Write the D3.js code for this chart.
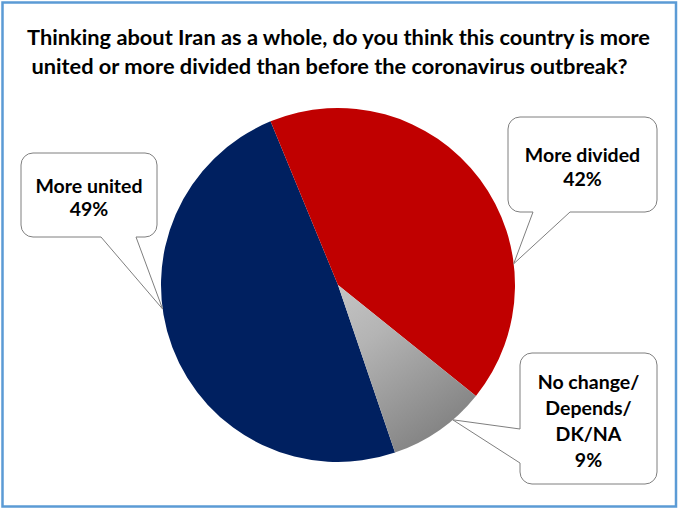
<!DOCTYPE html>
<html>
<head>
<meta charset="utf-8">
<script src="https://cdn.jsdelivr.net/npm/d3@7"></script>
<style>
  html, body { margin: 0; padding: 0; background: #fff; }
  svg { display: block; }
  text { font-family: Lato, "Open Sans", sans-serif; font-weight: bold; fill: #000; }
</style>
</head>
<body>
<svg id="chart" width="679" height="510"></svg>
<script>
// ---- data ----
const titleLines = [
  "Thinking about Iran as a whole, do you think this country is more",
  "united or more divided than before the coronavirus outbreak?"
];
const categories = ["More united", "More divided", "No change/Depends/DK/NA"];
const values = [49, 42, 9];
const labelLines = [["More united"], ["More divided"], ["No change/", "Depends/", "DK/NA"]];
const colors = ["#002060", "#C00000", "url(#grayGrad)"];

// ---- layout ----
const W = 679, H = 510;
const cx = 338, cy = 285, R = 177;
const startDeg = 161.2;
const callouts = [
  { x0: 21, y0: 153, x1: 157, y1: 237, side: "bottom", b1: 101, b2: 136, tipDeg: 262.2, lh: 23, fs: 19.5 },
  { x0: 508, y0: 117, x1: 657, y1: 212, side: "bottom", b1: 533, b2: 570, tipDeg: 83.1, lh: 24, fs: 19.5 },
  { x0: 520, y0: 353, x1: 657, y1: 484, side: "left", b1: 429, b2: 463, tipDeg: 139.6, lh: 26, fs: 19.5 }
];

const svg = d3.select("#chart");
const defs = svg.append("defs");

const rad = d => d * Math.PI / 180;
const pie = d3.pie().sort(null).value(d => d)
  .startAngle(rad(startDeg)).endAngle(rad(startDeg) + 2 * Math.PI);
const arcs = pie(values);
const arc = d3.arc().innerRadius(0).outerRadius(R);

// gray gradient along gray slice (coordinates local to the pie group)
const gmid = (arcs[2].startAngle + arcs[2].endAngle) / 2;
const gg = defs.append("linearGradient").attr("id", "grayGrad")
  .attr("gradientUnits", "userSpaceOnUse")
  .attr("x1", 0).attr("y1", 0)
  .attr("x2", R * Math.sin(gmid)).attr("y2", -R * Math.cos(gmid));
gg.append("stop").attr("offset", "0").attr("stop-color", "#c4c4c4");
gg.append("stop").attr("offset", "0.35").attr("stop-color", "#b4b4b4");
gg.append("stop").attr("offset", "1").attr("stop-color", "#858585");

// background + border
svg.append("rect").attr("x", 0).attr("y", 0).attr("width", W).attr("height", H).attr("fill", "#fff");
svg.append("rect").attr("x", 2.5).attr("y", 2.5).attr("width", 673.5).attr("height", 504)
  .attr("fill", "none").attr("stroke", "#5B9BD5").attr("stroke-width", 2.5);

// title
const titleX = [338.5, 329.5];
const titleY = [45, 73.5];
svg.selectAll("text.title").data(titleLines).join("text")
  .attr("class", "title")
  .attr("x", (d, i) => titleX[i]).attr("y", (d, i) => titleY[i])
  .attr("text-anchor", "middle")
  .style("font-size", "21.8px")
  .text(d => d);

// pie
const g = svg.append("g").attr("transform", `translate(${cx},${cy})`);
g.selectAll("path").data(arcs).join("path")
  .attr("d", arc)
  .attr("fill", (d, i) => colors[i]);

// callouts
function calloutPath(c, tip) {
  const r = 12;
  const { x0, y0, x1, y1 } = c;
  let p = `M${x0 + r},${y0} L${x1 - r},${y0} A${r},${r} 0 0 1 ${x1},${y0 + r} L${x1},${y1 - r} A${r},${r} 0 0 1 ${x1 - r},${y1}`;
  if (c.side === "bottom") {
    p += ` L${c.b2},${y1} L${tip[0]},${tip[1]} L${c.b1},${y1}`;
  }
  p += ` L${x0 + r},${y1} A${r},${r} 0 0 1 ${x0},${y1 - r}`;
  if (c.side === "left") {
    p += ` L${x0},${c.b2} L${tip[0]},${tip[1]} L${x0},${c.b1}`;
  }
  p += ` L${x0},${y0 + r} A${r},${r} 0 0 1 ${x0 + r},${y0} Z`;
  return p;
}

callouts.forEach((c, i) => {
  const a = rad(c.tipDeg);
  const tip = [cx + R * Math.sin(a), cy - R * Math.cos(a)];
  svg.append("path").attr("d", calloutPath(c, tip))
    .attr("fill", "#fff").attr("stroke", "#7f7f7f").attr("stroke-width", 1);
  const lines = labelLines[i].concat([values[i] + "%"]);
  const mx = (c.x0 + c.x1) / 2, my = (c.y0 + c.y1) / 2;
  const first = my - (lines.length - 1) * c.lh / 2 + 0.36 * c.fs + 2.5;
  svg.append("g").selectAll("text").data(lines).join("text")
    .attr("x", mx).attr("y", (d, j) => first + j * c.lh)
    .attr("text-anchor", "middle")
    .style("font-size", c.fs + "px")
    .text(d => d);
});
</script>
</body>
</html>
